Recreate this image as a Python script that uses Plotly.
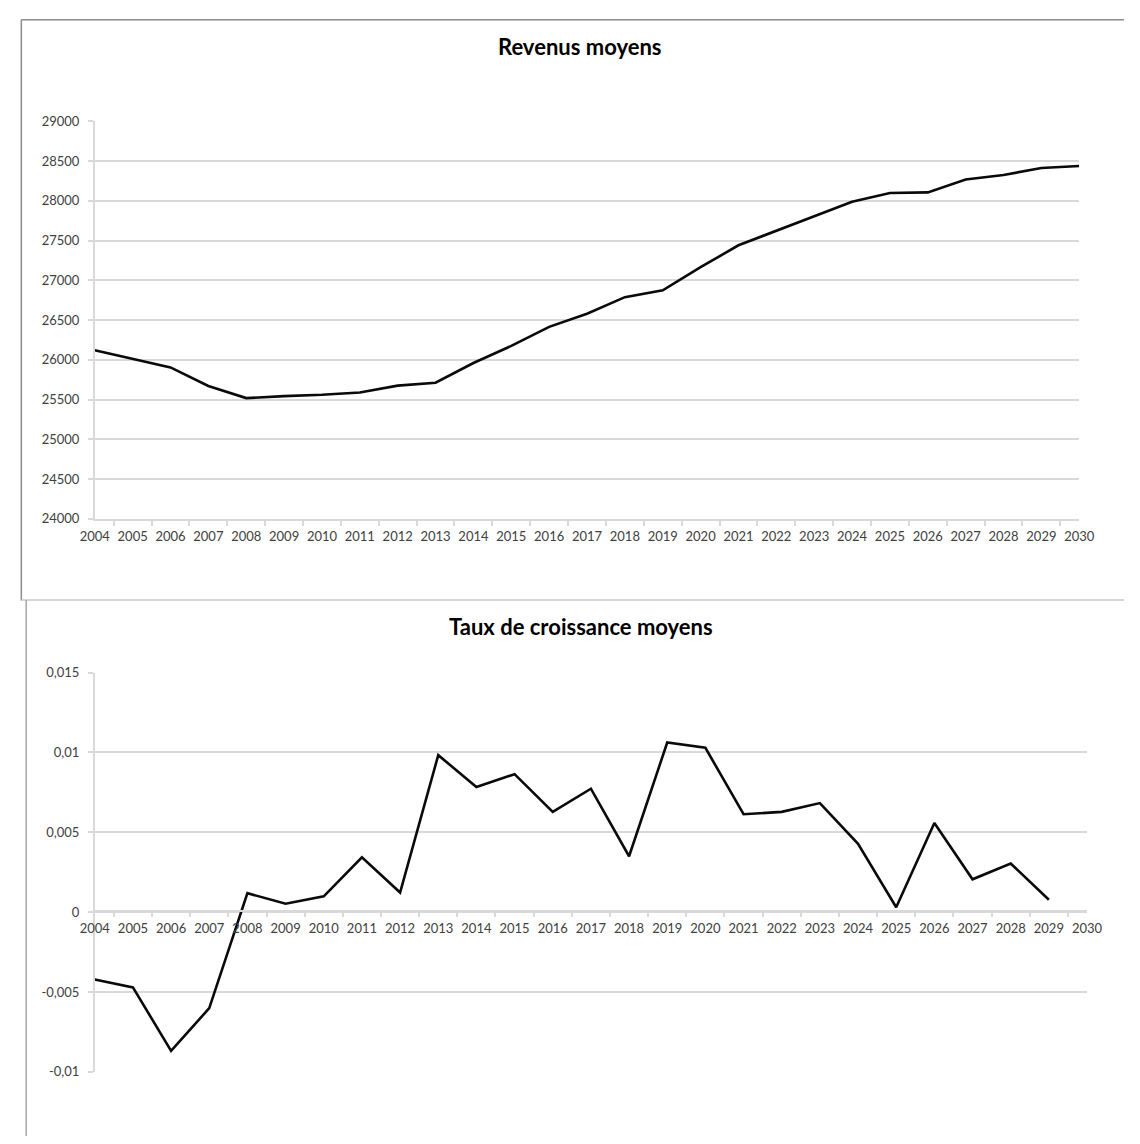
import plotly.graph_objects as go

# Years shown on both horizontal axes
years = [str(y) for y in range(2004, 2031)]

# Average income per year
revenus = [26120, 26010, 25905, 25670, 25518, 25543, 25560, 25588, 25675, 25712,
           25960, 26175, 26415, 26580, 26788, 26875, 27165, 27441, 27623, 27800,
           27990, 28098, 28107, 28268, 28326, 28413, 28438]

# Average growth rate per year (no value for 2030)
croissance = [-0.00422, -0.00471, -0.00868, -0.00601, 0.00119, 0.00053, 0.00099,
              0.00343, 0.00123, 0.00983, 0.00784, 0.00864, 0.00628, 0.00773,
              0.00350, 0.01062, 0.01029, 0.00613, 0.00628, 0.00683, 0.00428,
              0.00031, 0.00558, 0.00206, 0.00305, 0.00078, None]

# Tick values and labels
rev_ticks = [24000, 24500, 25000, 25500, 26000, 26500, 27000, 27500, 28000, 28500, 29000]
rev_labels = ["24000", "24500", "25000", "25500", "26000", "26500",
              "27000", "27500", "28000", "28500", "29000"]
cr_ticks = [-0.01, -0.005, 0, 0.005, 0.01, 0.015]
cr_labels = ["-0,01", "-0,005", "0", "0,005", "0,01", "0,015"]

titre_haut = "Revenus moyens"
titre_bas = "Taux de croissance moyens"

W, H = 1140, 1144


def px(x):
    return x / W


def py(y):
    return 1 - y / H


GRID = "#d9d9d9"
LABEL = "#404040"
FONT = "Lato"

fig = go.Figure()

fig.add_trace(go.Scatter(x=years, y=revenus, mode="lines",
                         line=dict(color="#0a0a0a", width=2.6),
                         xaxis="x", yaxis="y", showlegend=False))
fig.add_trace(go.Scatter(x=years, y=croissance, mode="lines",
                         line=dict(color="#0a0a0a", width=2.6),
                         xaxis="x2", yaxis="y2", showlegend=False))

tickfont = dict(family=FONT, size=13, color=LABEL)

xcommon = dict(
    type="category", showgrid=False, showline=True, linecolor=GRID,
    linewidth=1.5, ticks="outside", tickson="boundaries", ticklen=5,
    tickcolor=GRID, tickwidth=1.5, tickfont=tickfont, ticklabelstandoff=5,
    tickangle=0, fixedrange=True,
)
ycommon = dict(
    showgrid=True, gridcolor=GRID, gridwidth=1.5, zeroline=False,
    showline=True, linecolor=GRID, linewidth=1.5,
    ticks="outside", ticklen=5, tickcolor=GRID, tickwidth=1.5,
    tickfont=tickfont, ticklabelstandoff=6, fixedrange=True,
)

fig.update_layout(
    width=W, height=H,
    margin=dict(l=0, r=0, t=0, b=0),
    paper_bgcolor="white", plot_bgcolor="white",
    xaxis=dict(domain=[px(82), px(1094)], anchor="y", **xcommon),
    yaxis=dict(domain=[py(518), py(115)], range=[24000, 29000], anchor="x",
               tickvals=rev_ticks, ticktext=rev_labels, **ycommon),
    xaxis2=dict(domain=[px(82), px(1102)], anchor="free", position=py(916),
                **xcommon),
    yaxis2=dict(domain=[py(1079), py(674)], range=[-0.01, 0.015], anchor="x2",
                tickvals=cr_ticks, ticktext=cr_labels, **ycommon),
)

# Chart titles
fig.add_annotation(text="<b>" + titre_haut + "</b>", xref="paper", yref="paper",
                   x=px(580), y=py(39), xanchor="center", yanchor="middle",
                   showarrow=False, font=dict(family=FONT, size=22, color="#000"))
fig.add_annotation(text="<b>" + titre_bas + "</b>", xref="paper", yref="paper",
                   x=px(582), y=py(627), xanchor="center", yanchor="middle",
                   showarrow=False, font=dict(family=FONT, size=22, color="#000"))

# Chart frames
frame = dict(type="line", xref="paper", yref="paper")
fig.add_shape(**frame, x0=px(6.5), x1=1, y0=py(12), y1=py(12),
              line=dict(color="#8c8c8c", width=1.5))
fig.add_shape(**frame, x0=px(6.5), x1=px(6.5), y0=py(12), y1=py(601),
              line=dict(color="#8c8c8c", width=1.5))
fig.add_shape(**frame, x0=px(6.5), x1=1, y0=py(600.5), y1=py(600.5),
              line=dict(color="#c8c8c8", width=1.5))
fig.add_shape(**frame, x0=px(11.5), x1=px(11.5), y0=py(600.5), y1=0,
              line=dict(color="#a6a6a6", width=1.5))

fig.write_html("out.html")
